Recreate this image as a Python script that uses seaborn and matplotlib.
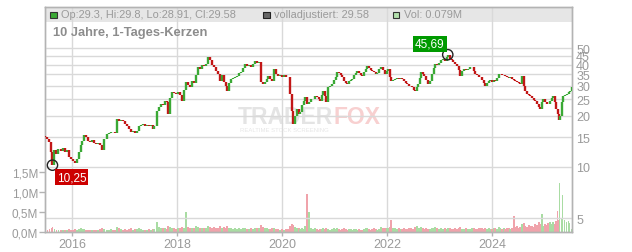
import numpy as np
import pandas as pd
import matplotlib
matplotlib.use("Agg")
import matplotlib.pyplot as plt
import seaborn as sns
from matplotlib.ticker import FixedLocator, FuncFormatter, NullLocator
from matplotlib.patches import Rectangle

# ---------------- data ----------------
# period index (≈ weekly steps) of each sampled candle since the chart start
week = [0, 2, 4, 6, 7, 9, 11, 13, 16, 18,
        20, 22, 24, 26, 28, 30, 32, 34, 36, 37,
        39, 41, 43, 45, 47, 49, 51, 53, 55, 57,
        59, 62, 64, 66, 68, 70, 72, 74, 76, 78,
        80, 82, 84, 86, 88, 90, 92, 94, 96, 98,
        100, 102, 104, 106, 108, 109, 112, 114, 116, 118,
        120, 122, 123, 125, 127, 129, 131, 133, 135, 137,
        139, 141, 143, 145, 147, 149, 151, 153, 155, 157,
        159, 161, 163, 165, 167, 169, 171, 173, 175, 177,
        179, 181, 182, 184, 186, 188, 190, 192, 194, 196,
        198, 200, 202, 204, 206, 208, 210, 212, 214, 216,
        218, 220, 222, 223, 225, 227, 229, 231, 233, 235,
        237, 239, 241, 243, 245, 247, 248, 250, 252, 254,
        255, 257, 259, 260, 262, 264, 266, 268, 270, 272,
        274, 275, 277, 278, 280, 281, 283, 285, 287, 289,
        291, 292, 294, 296, 297, 299, 301, 302, 304, 306,
        307, 309, 311, 312, 314, 316, 317, 319, 321, 322,
        324, 326, 327, 329, 331, 332, 334, 336, 338, 340,
        342, 343, 345, 346, 348, 350, 352, 354, 356, 357,
        359, 361, 362, 364, 366, 367, 369, 370, 372, 373,
        375, 376, 378, 379, 381, 383, 385, 387, 389, 390,
        392, 394, 396, 398, 400, 402, 403, 405, 407, 408,
        410, 412, 414, 415, 417, 419, 421, 423, 425, 427,
        429, 430, 432, 434, 435, 437, 439, 440, 442, 444,
        445, 447, 449, 450, 452, 454, 455, 457, 459, 460,
        462, 464, 465, 467, 469, 470, 472, 474, 475, 477,
        479, 480, 482, 484, 485, 487, 489, 490, 492, 494,
        495, 497, 498, 500, 502, 503, 505, 507, 508, 510,
        511, 513, 514, 515, 517, 518, 520, 522, 524, 525, 527]

close = [15.0, 14.6, 14.0, 12.2, 10.25, 12.5, 12.0, 12.8, 12.4, 12.9,
         12.3, 12.6, 11.5, 11.2, 10.9, 10.5, 11.1, 12.2, 13.5, 14.2,
         15.4, 15.0, 14.2, 14.0, 14.4, 13.9, 13.7, 13.9, 13.5, 12.5,
         14.6, 15.6, 15.9, 16.1, 16.0, 15.8, 19.1, 18.6, 18.9, 18.7,
         17.9, 17.4, 16.8, 16.1, 16.3, 15.8, 16.3, 17.3, 17.6, 17.8,
         17.5, 17.7, 17.4, 17.6, 16.8, 17.4, 21.3, 22.5, 23.4, 23.0,
         24.4, 24.0, 20.5, 25.5, 27.6, 27.2, 26.9, 27.5, 26.5, 24.4,
         28.5, 31.6, 30.5, 29.5, 32.0, 31.2, 34.5, 38.8, 37.5, 40.0,
         39.0, 40.4, 44.3, 42.5, 40.0, 38.5, 36.5, 35.0, 32.0, 34.5,
         31.5, 30.0, 28.0, 31.0, 33.0, 33.5, 34.0, 34.3, 35.5, 36.0,
         38.0, 40.4, 39.0, 40.0, 38.8, 40.5, 42.0, 41.0, 41.5, 31.6,
         30.7, 31.5, 33.0, 34.3, 33.0, 32.0, 37.6, 35.0, 34.3, 34.8,
         34.0, 34.5, 34.0, 33.8, 26.9, 21.3, 17.9, 20.0, 21.9, 20.5,
         21.0, 23.0, 24.5, 25.8, 23.4, 24.1, 25.0, 25.1, 26.0, 25.8,
         25.0, 24.4, 26.5, 28.0, 26.0, 24.1, 29.5, 30.0, 30.7, 32.5,
         34.0, 36.2, 35.5, 34.5, 33.8, 32.0, 31.0, 30.7, 32.0, 32.5,
         33.0, 34.5, 35.5, 36.6, 35.5, 34.5, 34.3, 36.0, 37.5, 39.2,
         38.0, 37.0, 36.6, 36.0, 35.2, 35.6, 37.5, 38.8, 37.0, 35.2,
         36.5, 37.6, 34.0, 32.0, 32.5, 33.0, 33.5, 32.8, 33.2, 33.0,
         32.0, 31.0, 30.7, 30.0, 29.8, 29.5, 28.5, 28.0, 29.5, 30.7,
         33.5, 36.2, 35.0, 34.3, 32.5, 30.7, 32.0, 35.2, 38.0, 40.4,
         39.8, 41.0, 42.5, 43.1, 42.0, 44.5, 45.69, 43.0, 42.5, 41.5,
         40.5, 39.2, 37.0, 34.3, 36.5, 37.6, 37.2, 37.8, 38.5, 38.8,
         36.5, 35.2, 34.5, 34.0, 33.8, 32.5, 31.0, 29.9, 31.0, 32.0,
         32.4, 31.5, 32.5, 32.0, 33.5, 35.0, 35.2, 34.5, 34.8, 34.3,
         34.0, 33.5, 33.8, 33.0, 32.5, 32.0, 31.5, 31.0, 30.7, 34.3,
         30.0, 28.0, 27.0, 26.5, 26.2, 25.5, 24.8, 24.4, 23.5, 22.5,
         21.9, 24.0, 25.1, 24.0, 23.5, 23.4, 24.5, 25.5, 26.2, 24.0,
         21.9, 20.5, 19.0, 20.0, 24.0, 26.2, 26.5, 26.9, 27.5, 28.0, 29.58]

volume_m = [.08, .06, .07, .10, .12, .07, .05, .06, .05, .06,
            .05, .06, .07, .06, .05, .08, .06, .07, .09, .08,
            .07, .05, .06, .05, .06, .05, .05, .06, .07, .09,
            .08, .06, .05, .07, .06, .05, .12, .09, .07, .06,
            .08, .06, .07, .09, .06, .07, .08, .10, .07, .06,
            .05, .06, .07, .06, .08, .07, .25, .12, .10, .09,
            .11, .08, .15, .12, .10, .09, .08, .11, .09, .12,
            .10, .50, .13, .11, .09, .10, .14, .12, .10, .09,
            .11, .10, .15, .12, .10, .13, .11, .09, .14, .10,
            .12, .10, .16, .11, .09, .08, .10, .07, .09, .08,
            .10, .09, .07, .08, .09, .08, .10, .09, .11, .18,
            .12, .10, .09, .08, .07, .09, .10, .08, .07, .06,
            .07, .06, .08, .07, .14, .20, .18, .12, .10, .09,
            .08, .09, .07, .15, .94, .50, .10, .08, .09, .07,
            .06, .07, .08, .10, .07, .09, .08, .06, .07, .09,
            .08, .10, .07, .06, .08, .09, .07, .06, .08, .07,
            .06, .07, .08, .06, .07, .05, .06, .08, .09, .10,
            .07, .06, .08, .09, .07, .06, .08, .12, .10, .09,
            .11, .10, .12, .30, .10, .09, .08, .10, .07, .08,
            .09, .07, .08, .10, .09, .07, .08, .12, .15, .11,
            .10, .12, .09, .08, .10, .07, .08, .11, .09, .12,
            .10, .08, .09, .07, .10, .08, .11, .09, .07, .08,
            .09, .08, .10, .12, .07, .08, .09, .07, .08, .10,
            .09, .07, .08, .10, .09, .11, .08, .10, .07, .09,
            .08, .07, .10, .09, .08, .12, .09, .07, .10, .08,
            .09, .11, .08, .10, .39, .12, .14, .11, .13, .20,
            .22, .15, .12, .18, .14, .16, .13, .20, .17, .25,
            .20, .44, .15, .20, .17, .22, .25, .19, .24, .21,
            .28, .52, .30, 1.23, .35, .91, .30, .25, .28, .22, .079]

first_open = 15.3
start_year = 2015.487
periods_per_year = 52.6

year_ticks = [2016, 2018, 2020, 2022, 2024]
price_ticks = [5, 10, 15, 20, 25, 30, 35, 40, 45, 50]
volume_ticks = [0.0, 0.5, 1.0, 1.5]

legend_ohlc = "Op:29.3, Hi:29.8, Lo:28.91, Cl:29.58"
legend_adj = "volladjustiert: 29.58"
legend_vol = "Vol: 0.079M"
title = "10 Jahre, 1-Tages-Kerzen"

# ---------------- style ----------------
sns.set_theme(style="white")
plt.rcParams["font.family"] = ["Liberation Sans", "DejaVu Sans"]

UP = "#3aa935"
DOWN = "#c21717"
VOL_UP = "#a9dca3"
VOL_DOWN = "#f0a3ab"
GRID = "#d9d9d9"
FRAME = "#b3b3b3"
TXT = "#9a9a9a"

df = pd.DataFrame({
    "t": start_year + np.asarray(week, dtype=float) / periods_per_year,
    "close": close,
    "vol": volume_m,
})
df["open"] = [first_open] + close[:-1]
df["up"] = df["close"] >= df["open"]

W, H = 632, 253
fig = plt.figure(figsize=(W / 100, H / 100), dpi=100)
ax = fig.add_axes([45 / W, 20 / H, 527 / W, 225 / H])
ax2 = ax.twinx()

# ---- volume (left axis)
ax.set_facecolor("white")
ax.bar(df["t"], df["vol"], width=0.036,
       color=np.where(df["up"], VOL_UP, VOL_DOWN), linewidth=0, zorder=1)
ax.set_ylim(0, 5.6)
ax.set_xlim(2015.478, 2025.515)
ax.yaxis.set_major_locator(FixedLocator(volume_ticks))
ax.yaxis.set_major_formatter(FuncFormatter(lambda v, p: f"{v:.1f}M".replace(".", ",")))
ax.xaxis.set_major_locator(FixedLocator(year_ticks))
ax.xaxis.set_major_formatter(FuncFormatter(lambda v, p: f"{int(round(v))}"))
ax.tick_params(axis="y", left=True, length=4, width=1, color=FRAME,
               labelsize=8.5, labelcolor=TXT, pad=1)
ax.tick_params(axis="x", bottom=True, length=3, width=1, color=FRAME,
               labelsize=9, labelcolor=TXT, pad=1)
ax.set_axisbelow(True)
ax.grid(axis="x", color=GRID, linewidth=1)
ax.grid(axis="y", visible=False)

# header band
ax.add_patch(Rectangle((0, 1 - 14.5 / 225), 1, 14.5 / 225, transform=ax.transAxes,
                       facecolor="#e6e6e6", edgecolor="none", zorder=0.1))

# watermark
ax.text(0.5465, 0.515, "TRADER", transform=ax.transAxes, ha="right", va="center",
        fontsize=16.5, fontweight="bold", color="#e4e4e4", zorder=0.3)
ax.text(0.5465, 0.515, "FOX", transform=ax.transAxes, ha="left", va="center",
        fontsize=16.5, fontweight="bold", color="#f8d0d0", zorder=0.3)
ax.text(0.455, 0.455, "REALTIME STOCK SCREENING", transform=ax.transAxes,
        ha="center", va="center", fontsize=4.3, color="#e6e6e6", zorder=0.3)

# ---- price (right axis, log)
ax2.set_yscale("log")
ax2.set_ylim(4.15, 87.1)
ax2.yaxis.set_major_locator(FixedLocator(price_ticks))
ax2.yaxis.set_minor_locator(NullLocator())
ax2.yaxis.set_major_formatter(FuncFormatter(lambda v, p: f"{v:g}"))
ax2.tick_params(axis="y", right=True, length=0, labelsize=9, labelcolor=TXT, pad=3)
ax2.grid(axis="y", color=GRID, linewidth=1, zorder=0)
ax2.set_axisbelow(True)

ax2.vlines(df["t"], df["open"], df["close"],
           colors=np.where(df["up"], UP, DOWN), linewidth=1.7, zorder=3)

# min / max markers
i_min = int(df["close"].idxmin())
i_max = int(df["close"].idxmax())
ext = df.loc[[i_min, i_max]]
sns.scatterplot(x=ext["t"], y=ext["close"], ax=ax2, s=55, marker="o",
                facecolor="none", edgecolor="#222222", linewidth=1, zorder=5, legend=False)
for idx, off, col in [(i_min, (19, -12), "#cc0000"), (i_max, (-18, 11), "#009a00")]:
    v = df.loc[idx, "close"]
    ax2.annotate(f"{v:.2f}".replace(".", ","), xy=(df.loc[idx, "t"], v),
                 xytext=off, textcoords="offset pixels", ha="center", va="center",
                 color="white", fontsize=8.5, zorder=6,
                 bbox=dict(boxstyle="square,pad=0.18", facecolor=col, edgecolor="none"))
ax2.set_xlabel("")
ax2.set_ylabel("")

for a in (ax, ax2):
    for s in a.spines.values():
        s.set_color(FRAME)
        s.set_linewidth(1)

# ---- header legend and title
ty = 1 - 15.5 / H
for x0, fc, ec, label in [(50, UP, "#333333", legend_ohlc),
                          (263, "#666666", "#222222", legend_adj),
                          (393, "#b3e0ac", "#333333", legend_vol)]:
    fig.add_artist(Rectangle((x0 / W, 1 - 19 / H), 6.5 / W, 6.5 / H,
                             transform=fig.transFigure, facecolor=fc,
                             edgecolor=ec, linewidth=0.8, zorder=10))
    fig.text((x0 + 11) / W, ty, label, ha="left", va="center",
             fontsize=7.9, color=TXT, zorder=10)

fig.text(53 / W, 1 - 33 / H, title, ha="left", va="center",
         fontsize=9.3, fontweight="bold", color="#8c8c8c", zorder=10)

fig.savefig("out.png", dpi=100)
